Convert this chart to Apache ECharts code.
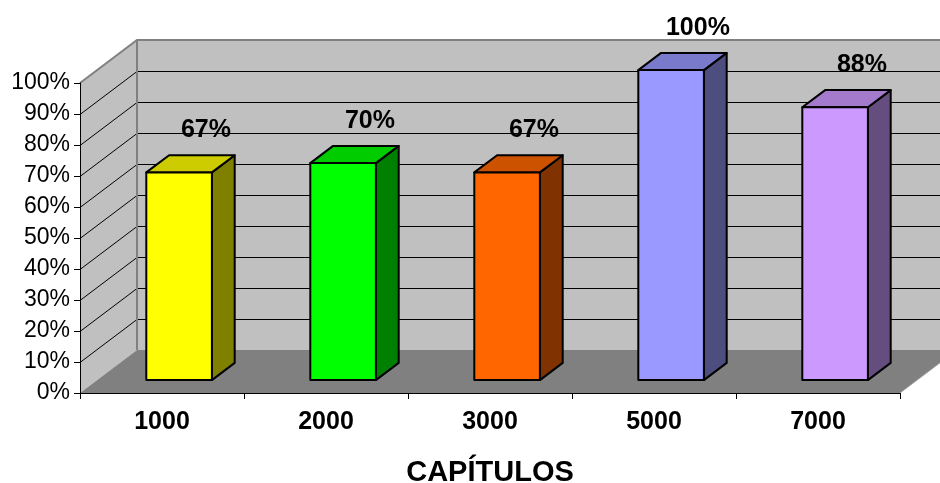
<!DOCTYPE html>
<html>
<head>
<meta charset="utf-8">
<script src="https://cdn.jsdelivr.net/npm/echarts@6/dist/echarts.min.js"></script>
<style>
  html, body { margin: 0; padding: 0; background: #ffffff; }
  #chart { width: 940px; height: 483px; }
</style>
</head>
<body>
<div id="chart"></div>
<script>
// Data
const categories = ['1000', '2000', '3000', '5000', '7000'];
const values = [67, 70, 67, 100, 88];          // percent
const axisName = 'CAPÍTULOS';
const yMin = 0, yMax = 100, yStep = 10;

// Bar face colours (front, top, side)
const frontColors = ['#FFFF00', '#00FF00', '#FF6600', '#9999FF', '#CC99FF'];
const topColors   = ['#CCCC00', '#00CC00', '#CC5200', '#7A7ACC', '#A37ACC'];
const sideColors  = ['#808000', '#008000', '#803300', '#4D4D80', '#664D80'];

// Pseudo-3D projection: screen offset of the full floor depth
const DEPTH = [57, -43];
const BAR_NEAR = 0.3, BAR_FAR = 0.7;   // bar position inside the floor depth
const BAR_WIDTH = 0.4;                 // fraction of the category band
const FONT = 'Arial, "Liberation Sans", sans-serif';

function renderWalls(params, api) {
  const cs = params.coordSys;
  const x0 = cs.x, x1 = cs.x + cs.width;
  const yb = api.coord([0, yMin])[1];
  const yt = api.coord([0, yMax])[1];
  const dx = DEPTH[0], dy = DEPTH[1];
  const children = [];
  // back wall
  children.push({ type: 'polygon', shape: { points: [[x0 + dx, yt + dy], [x1 + dx, yt + dy], [x1 + dx, yb + dy], [x0 + dx, yb + dy]] },
    style: { fill: '#C0C0C0' } });
  // side wall
  children.push({ type: 'polygon', shape: { points: [[x0, yt], [x0 + dx, yt + dy], [x0 + dx, yb + dy], [x0, yb]] },
    style: { fill: '#C0C0C0' } });
  // floor
  children.push({ type: 'polygon', shape: { points: [[x0, yb], [x1, yb], [x1 + dx, yb + dy], [x0 + dx, yb + dy]] },
    style: { fill: '#808080' } });
  // gridlines across side wall and back wall
  for (let v = yMin + yStep; v < yMax; v += yStep) {
    const y = Math.round(api.coord([0, v])[1]) + 0.5;
    children.push({ type: 'polyline', shape: { points: [[x0, y], [x0 + dx, y + dy], [x1 + dx, y + dy]] },
      style: { stroke: '#000000', lineWidth: 1, fill: null } });
  }
  // wall outlines
  children.push({ type: 'polyline', shape: { points: [[x0, yt], [x0 + dx, yt + dy], [x1 + dx, yt + dy]] },
    style: { stroke: '#808080', lineWidth: 2, fill: null } });
  children.push({ type: 'line', shape: { x1: x0 + dx, y1: yt + dy, x2: x0 + dx, y2: yb + dy },
    style: { stroke: '#808080', lineWidth: 2 } });
  children.push({ type: 'line', shape: { x1: x1, y1: yb, x2: x1 + dx, y2: yb + dy },
    style: { stroke: '#A0A0A0', lineWidth: 1 } });
  return { type: 'group', children: children };
}

function renderBar(params, api) {
  const idx = api.value(0);
  const val = api.value(1);
  const base = api.coord([idx, yMin]);
  const top = api.coord([idx, val]);
  const band = api.size([1, 0])[0];
  const w = band * BAR_WIDTH;
  const ox = DEPTH[0] * BAR_NEAR, oy = DEPTH[1] * BAR_NEAR;
  const dx = DEPTH[0] * (BAR_FAR - BAR_NEAR), dy = DEPTH[1] * (BAR_FAR - BAR_NEAR);
  const xl = base[0] - w / 2 + ox, xr = base[0] + w / 2 + ox;
  const yb = base[1] + oy, yt = top[1] + oy;
  const line = { stroke: '#000000', lineWidth: 2, lineJoin: 'round' };
  return {
    type: 'group',
    children: [
      { type: 'polygon', shape: { points: [[xr, yb], [xr + dx, yb + dy], [xr + dx, yt + dy], [xr, yt]] },
        style: Object.assign({ fill: sideColors[idx] }, line) },
      { type: 'polygon', shape: { points: [[xl, yt], [xr, yt], [xr + dx, yt + dy], [xl + dx, yt + dy]] },
        style: Object.assign({ fill: topColors[idx] }, line) },
      { type: 'polygon', shape: { points: [[xl, yb], [xr, yb], [xr, yt], [xl, yt]] },
        style: Object.assign({ fill: frontColors[idx] }, line) },
      { type: 'text', style: { x: (xl + xr) / 2 + dx + 4, y: yt - 42, text: Math.round(val) + '%',
        fill: '#000000', font: 'bold 25px ' + FONT, align: 'center', verticalAlign: 'middle' } }
    ]
  };
}

const chart = echarts.init(document.getElementById('chart'), null, { renderer: 'canvas' });
chart.setOption({
  backgroundColor: '#ffffff',
  animation: false,
  grid: { left: 80, right: 40, top: 83, bottom: 90, containLabel: false, outerBoundsMode: 'none' },
  xAxis: {
    type: 'category',
    data: categories,
    z: 10,
    axisLine: { show: true, lineStyle: { color: '#000000', width: 1 } },
    axisTick: { show: true, length: 6, lineStyle: { color: '#000000' } },
    axisLabel: { margin: 17, color: '#000000', fontFamily: FONT, fontWeight: 'bold', fontSize: 25 },
    splitLine: { show: false },
    name: axisName,
    nameLocation: 'middle',
    nameGap: 65,
    nameTextStyle: { color: '#000000', fontFamily: FONT, fontWeight: 'bold', fontSize: 29 }
  },
  yAxis: {
    type: 'value',
    min: yMin, max: yMax, interval: yStep,
    z: 10,
    axisLine: { show: true, lineStyle: { color: '#000000', width: 1 } },
    axisTick: { show: true, length: 6, lineStyle: { color: '#000000' } },
    axisLabel: { margin: 10, color: '#000000', fontFamily: FONT, fontSize: 23, formatter: '{value}%' },
    splitLine: { show: false }
  },
  series: [
    { type: 'custom', name: 'walls', coordinateSystem: 'cartesian2d', silent: true, z: 1, clip: false,
      data: [[0, 0]], renderItem: renderWalls },
    { type: 'custom', name: 'bars', coordinateSystem: 'cartesian2d', silent: true, z: 3, clip: false,
      data: values.map((v, i) => [i, v]), renderItem: renderBar }
  ]
});
</script>
</body>
</html>
